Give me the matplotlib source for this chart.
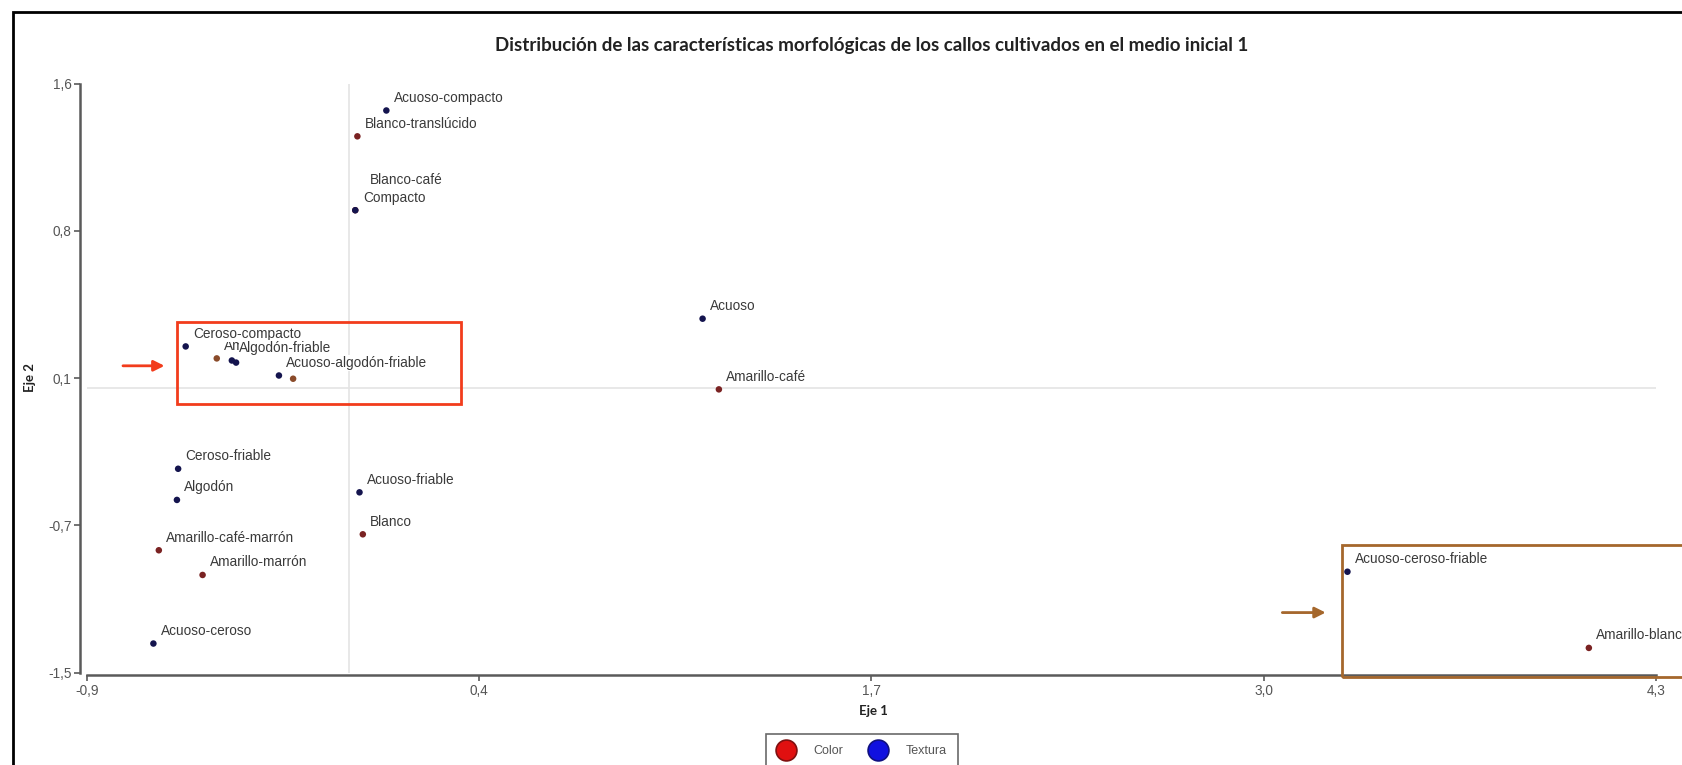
import numpy as np
import matplotlib
matplotlib.use("Agg")
import matplotlib.pyplot as plt
from matplotlib.lines import Line2D
from matplotlib.patches import Rectangle, FancyArrowPatch

# --- data: biplot coordinates (Eje 1, Eje 2) ---
color_names = ["Blanco-translúcido", "Blanco-café", "Amarillo-café", "Amarillo", "",
               "Amarillo-café-marrón", "Amarillo-marrón", "Blanco", "Amarillo-blanco-café"]
color_x = [0.027, 0.020, 1.225, -0.439, -0.186, -0.631, -0.486, 0.045, 4.108]
color_y = [1.323, 0.934, -0.009, 0.154, 0.047, -0.856, -0.986, -0.772, -1.370]

texture_names = ["Acuoso-compacto", "Compacto", "Acuoso", "Ceroso-compacto", "Algodón-friable", "",
                 "Acuoso-algodón-friable", "Ceroso-friable", "Algodón", "Acuoso-friable",
                 "Acuoso-ceroso", "Acuoso-ceroso-friable"]
texture_x = [0.123, 0.020, 1.171, -0.542, -0.389, -0.375, -0.233, -0.567, -0.571, 0.034, -0.649, 3.308]
texture_y = [1.459, 0.934, 0.363, 0.217, 0.143, 0.132, 0.064, -0.427, -0.591, -0.551, -1.347, -0.969]

x_range = (-0.87, 4.33)
y_range = (-1.5, 1.6)

# --- styling ---
COLOR_PT = "#7a2222"
COLOR_PT_ALT = "#8a4b2a"
TEXTURE_PT = "#14144e"
LABEL_C = "#3a3a3a"
TICK_C = "#555555"
AXIS_C = "#5a5a5a"

plt.rcParams["font.family"] = ["Liberation Sans", "DejaVu Sans"]

fig = plt.figure(figsize=(16.82, 7.65), dpi=100)
ax = fig.add_axes([0.05155, 0.12078, 0.9329, 0.7698])
ax.set_xlim(*x_range)
ax.set_ylim(*y_range)

# reference lines through the origin
ax.axhline(0, color="#e4e4e4", lw=1.2, zorder=1)
ax.axvline(0, color="#e4e4e4", lw=1.2, zorder=1)

# points
alt_colors = {"Amarillo", ""}
c_cols = [COLOR_PT_ALT if n in alt_colors else COLOR_PT for n in color_names]
ax.scatter(color_x, color_y, s=22, c=c_cols, zorder=5, edgecolors="none")
ax.scatter(texture_x, texture_y, s=22, c=TEXTURE_PT, zorder=6, edgecolors="none")

# labels (upper right of each point)
default_off = (5.4, 9.0)
special_off = {"Blanco-café": (10.5, 21.5)}
z = 3.0
for names, xs, ys in [(color_names, color_x, color_y), (texture_names, texture_x, texture_y)]:
    for n, x, y in zip(names, xs, ys):
        if not n:
            continue
        off = special_off.get(n, default_off)
        z += 0.01
        ax.annotate(n, (x, y), xytext=off, textcoords="offset points",
                    ha="left", va="center", fontsize=9.8, color=LABEL_C, zorder=z,
                    bbox=dict(boxstyle="square,pad=0.05", fc="white", ec="none"))

# axes appearance
for s in ["top", "right"]:
    ax.spines[s].set_visible(False)
ax.spines["left"].set_position(("outward", 5))
ax.spines["bottom"].set_position(("outward", 2))
for s in ["left", "bottom"]:
    ax.spines[s].set_color(AXIS_C)
    ax.spines[s].set_linewidth(1.8)

xt = np.linspace(x_range[0], x_range[1], 5)
yt = np.linspace(y_range[0], y_range[1], 5)
ax.set_xticks(xt)
ax.set_yticks(yt)
ax.set_xticklabels([f"{v:.1f}".replace(".", ",") for v in xt])
ax.set_yticklabels([f"{v + 1e-9:.1f}".replace(".", ",") for v in yt])
ax.tick_params(axis="both", direction="out", length=4, width=1.2, color=AXIS_C,
               labelsize=9.8, labelcolor=TICK_C, pad=2)

# titles
fig.text(0.518, 0.941, "Distribución de las características morfológicas de los callos cultivados en el medio inicial 1",
         ha="center", va="center", fontsize=13.5, fontweight="bold", color="#222222",
         family=["Lato", "DejaVu Sans"])
fig.text(0.519, 0.0706, "Eje 1", ha="center", va="center", fontsize=9.5,
         fontweight="bold", color="#222222", family=["Lato", "DejaVu Sans"])
fig.text(0.0178, 0.506, "Eje 2", ha="center", va="center", rotation=90, fontsize=9.5,
         fontweight="bold", color="#222222", family=["Lato", "DejaVu Sans"])

# legend
handles = [Line2D([], [], ls="none", marker="o", markersize=15, markerfacecolor="#e01010",
                  markeredgecolor="#801010", markeredgewidth=1.2, label="Color"),
           Line2D([], [], ls="none", marker="o", markersize=15, markerfacecolor="#1010e0",
                  markeredgecolor="#101080", markeredgewidth=1.2, label="Textura")]
leg = fig.legend(handles=handles, loc="upper center", bbox_to_anchor=(0.5125, 0.049),
                 ncol=2, frameon=True, fancybox=False, fontsize=9, labelcolor=TICK_C,
                 handletextpad=1.5, columnspacing=2.1, borderpad=0.9, handlelength=1.4)
leg.get_frame().set_edgecolor("#444444")
leg.get_frame().set_linewidth(1.2)

# highlight boxes and arrows
ax.add_patch(Rectangle((-0.571, -0.088), 0.942, 0.434, fill=False, ec="#f23c1c", lw=2,
                       clip_on=False, zorder=7))
ax.add_patch(FancyArrowPatch((-0.759, 0.115), (-0.603, 0.115), arrowstyle="-|>",
                             mutation_scale=16, color="#f23c1c", lw=2, clip_on=False, zorder=7))
ax.add_patch(Rectangle((3.29, -1.523), 1.5, 0.695, fill=False, ec="#a5672c", lw=2,
                       clip_on=False, zorder=7))
ax.add_patch(FancyArrowPatch((3.083, -1.184), (3.245, -1.184), arrowstyle="-|>",
                             mutation_scale=16, color="#a5672c", lw=2, clip_on=False, zorder=7))

# outer frame
fig.patches.append(Rectangle((13 / 1682, -0.1), 1.2, 1 - 12 / 765 + 0.1, transform=fig.transFigure,
                             fill=False, ec="black", lw=2))

fig.savefig("out.png", dpi=100)
